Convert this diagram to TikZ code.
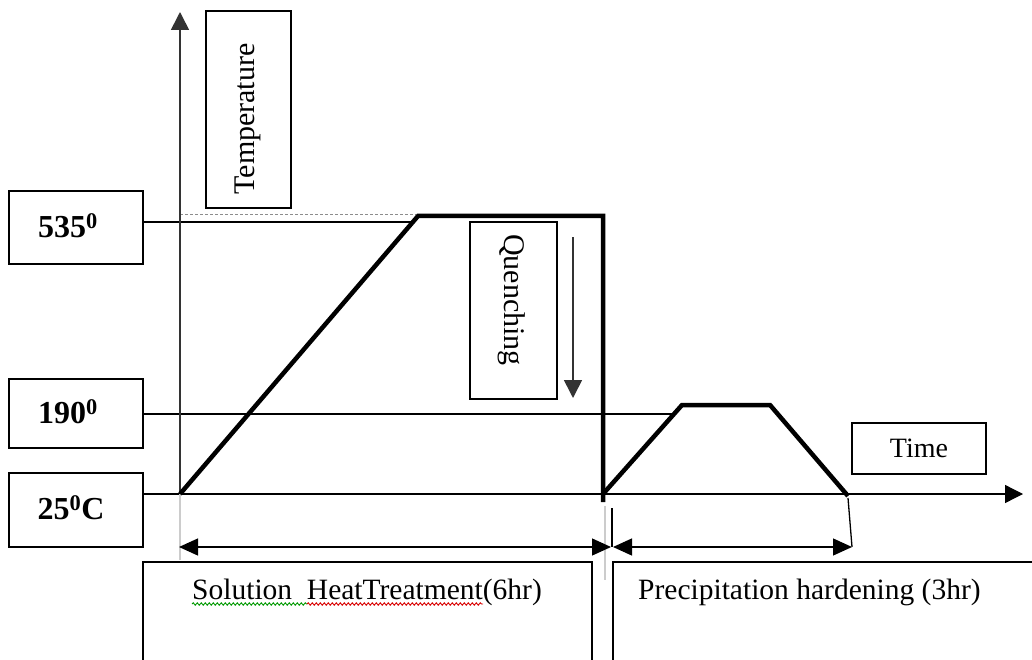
\documentclass[tikz,border=0pt]{standalone}
\usepackage{fontspec}
\setmainfont{Liberation Serif}
\usetikzlibrary{arrows.meta,decorations.pathmorphing}
\begin{document}
\begin{tikzpicture}[x=1pt,y=-1pt,
  lbl/.style={draw, line width=1.3pt, inner sep=0pt, minimum width=134pt,
    font=\fontsize{32}{36}\selectfont\bfseries},
  tbox/.style={draw, line width=1.2pt, inner sep=0pt, font=\fontsize{28}{32}\selectfont},
  rotbox/.style={draw, line width=1.2pt, inner sep=0pt},
  rottext/.style={inner sep=0pt, font=\fontsize{30}{34}\selectfont},
  plain/.style={inner sep=0pt, font=\fontsize{29.5}{34}\selectfont},
  thin/.style={line width=1.3pt},
  axisline/.style={line width=1.6pt, draw=black!80},
  ext/.style={line width=1.6pt, draw=black!20},
  curve/.style={line width=4.5pt, line join=miter},
  tip/.style={-{Triangle[length=18pt,width=18pt]}},
  dim/.style={line width=1.3pt, {Triangle[length=19pt,width=17pt]}-{Triangle[length=19pt,width=17pt]}},
  wavy/.style={line width=0.9pt, decorate, decoration={snake, amplitude=1.2pt, segment length=4pt}}
]
\useasboundingbox[fill=white] (0,0) rectangle (1032,660);

% value labels
\node[lbl, minimum height=73pt] (t535) at (76,227.5) {};
\node[lbl, minimum height=69pt] (t190) at (76,413.5) {};
\node[lbl, minimum height=74pt] (t25) at (76,510) {};
\node[inner sep=0pt, font=\fontsize{32}{36}\selectfont\bfseries] (v535) at (68,226) {535\textsuperscript{0}};
\node[inner sep=0pt, font=\fontsize{32}{36}\selectfont\bfseries] (v190) at (68,412) {190\textsuperscript{0}};
\node[inner sep=0pt, font=\fontsize{32}{36}\selectfont\bfseries] (v25) at (71,508) {25\textsuperscript{0}C};

% text boxes
\node[rotbox, minimum width=85pt, minimum height=197pt] (temp) at (248.5,109.5) {};
\node[rottext, rotate=90] (tempt) at (248,119) {Temperature};
\node[rotbox, minimum width=87pt, minimum height=177pt] (quench) at (513.5,310.5) {};
\node[rottext, rotate=-90] (quencht) at (512,300) {Quenching};
\node[tbox, minimum width=134pt, minimum height=51pt] (time) at (919,448.5) {Time};

% key coordinates
\coordinate (O) at (180,494);
\coordinate (A) at (418,216);
\coordinate (B) at (603,216);
\coordinate (C) at (603,502);
\coordinate (C0) at (603,494);
\coordinate (D) at (682,405);
\coordinate (E) at (770,405);
\coordinate (F) at (848,496);
\coordinate (ytop) at (180,12);
\coordinate (xend) at (1023,494);
\coordinate (h535) at (413,222);
\coordinate (h190) at (674,414);
\coordinate (dashL) at (180,214);
\coordinate (dashR) at (416,214);

% reference lines
\draw[thin] (t535.east |- h535) -- (h535);
\draw[thin] (t190.east |- h190) -- (h190);
\draw[densely dashed, line width=0.9pt, draw=black!45] (dashL) -- (dashR);

% axes
\draw[axisline, tip] (O) -- (ytop);
\draw[thin, tip] (t25.east |- O) -- (xend);

% extension lines
\coordinate (e1) at (180,560);
\coordinate (e2a) at (605,506);
\coordinate (e2b) at (605,580);
\coordinate (e3a) at (612,508);
\coordinate (e3b) at (612,547);
\coordinate (e4a) at (848,498);
\coordinate (e4b) at (852,547);
\coordinate (d1) at (179,547);
\coordinate (d2) at (611,547);
\coordinate (d3) at (613,547);
\draw[ext] (O) -- (e1);
\draw[ext] (e2a) -- (e2b);
\draw[thin] (e3a) -- (e3b);
\draw[thin] (e4a) -- (e4b);

% dimension arrows
\draw[dim] (d1) -- (d2);
\draw[dim] (d3) -- (e4b);

% heat treatment curve
\draw[curve] (O) -- (A) -- (B) -- (C);
\draw[curve] (C0) -- (D) -- (E) -- (F);

% quenching arrow
\coordinate (q1) at (573,237);
\coordinate (q2) at (573,398);
\draw[axisline, tip] (q1) -- (q2);

% bottom boxes
\draw[thin] (143,662) -- (143,562) -- (592,562) -- (592,662);
\draw[thin] (613,662) -- (613,562) -- (1034,562);
\node[plain, anchor=base west] (sol) at (192,599) {Solution\ \ HeatTreatment(6hr)};
\node[plain, anchor=base west] (prec) at (638,599) {Precipitation hardening (3hr)};
\draw[wavy, draw=green!60!black] (192,604) -- (307,604);
\draw[wavy, draw=red!85!black] (307,604) -- (483,604);
\end{tikzpicture}
\end{document}
